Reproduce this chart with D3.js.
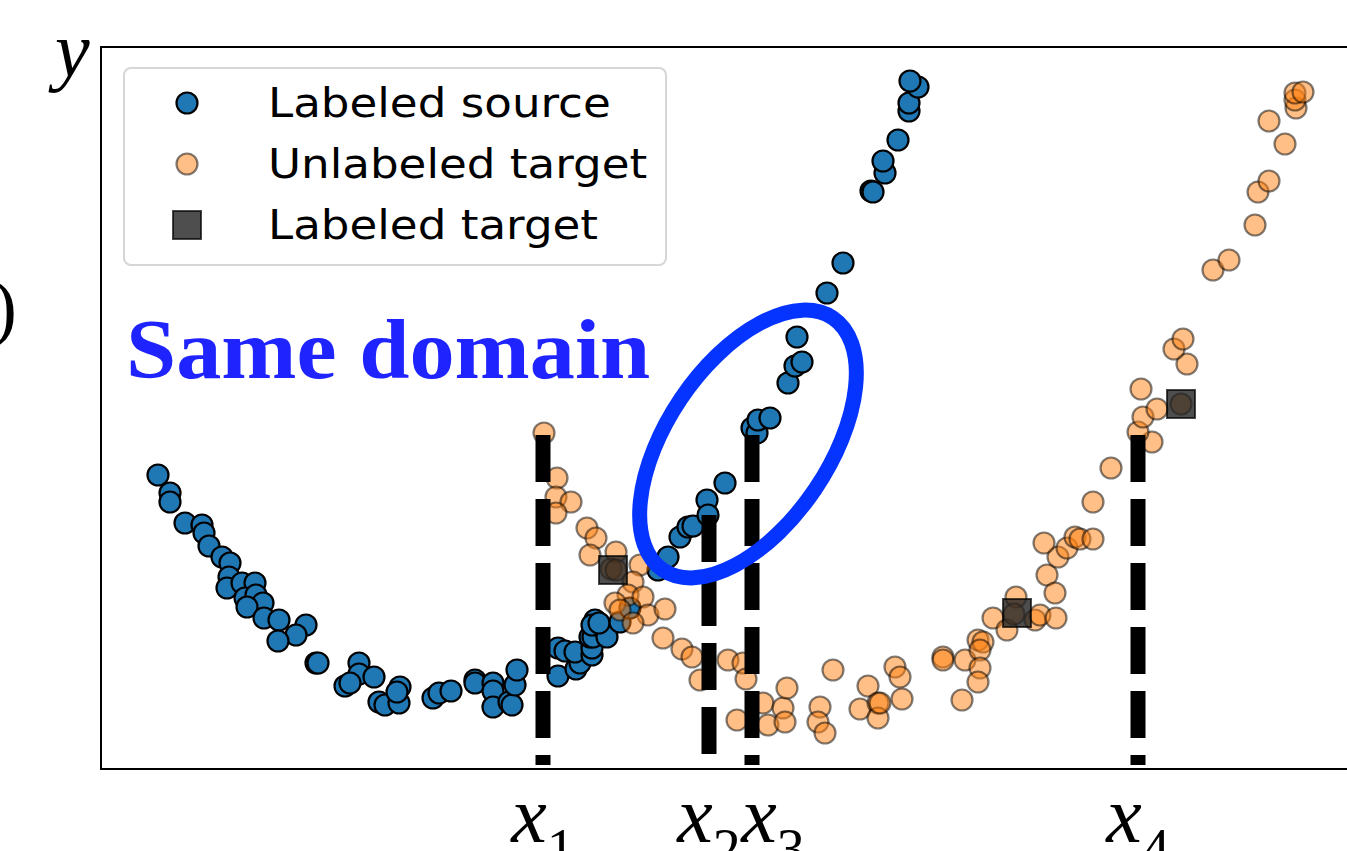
<!DOCTYPE html>
<html>
<head>
<meta charset="utf-8">
<script src="https://cdn.jsdelivr.net/npm/d3@7"></script>
<style>
  body { margin: 0; background: #fff; overflow: hidden; }
  svg { display: block; }
</style>
</head>
<body>
<figure id="scatter" style="margin:0"></figure>
<script>
// labeled source samples (blue)
const sourceX = [0.57,0.69,0.69,0.84,1.01,1.03,1.08,1.21,1.29,1.28,1.26,1.41,1.54,1.44,1.55,1.62,1.46,1.63,1.78,2.05,
  1.95,1.77,2.15,2.17,2.58,2.58,2.73,2.44,2.49,2.78,2.84,2.99,2.98,2.96,3.32,3.38,3.50,3.74,3.74,3.92,
  3.92,3.92,4.08,4.11,4.14,4.16,
  4.57,4.64,4.57,4.75,4.79,4.74,4.91,4.91,4.89,4.92,5.02,4.94,4.91,5.06,4.98,5.19,5.29,5.57,5.67,5.79,
  5.87,5.92,6.06,6.07,6.24,6.51,6.56,6.57,6.69,6.87,6.94,7.01,6.96,7.26,7.42,7.70,7.72,7.84,7.82,7.97,
  8.08,8.08,8.17,8.09];
const sourceY = [2.94,2.76,2.67,2.46,2.44,2.36,2.23,2.12,2.06,1.92,1.81,1.86,1.86,1.71,1.74,1.66,1.62,1.51,1.49,1.44,
  1.34,1.28,1.06,1.06,1.06,0.95,0.92,0.83,0.86,0.67,0.64,0.82,0.66,0.77,0.71,0.76,0.78,0.89,0.86,0.86,
  0.78,0.62,0.67,0.64,0.84,0.99,
  1.21,1.18,0.93,1.00,1.06,1.17,1.14,1.21,1.32,1.32,1.41,1.49,1.44,1.32,1.46,1.47,1.61,1.99,2.12,2.32,
  2.42,2.43,2.69,2.54,2.86,3.41,3.36,3.49,3.51,3.86,4.03,4.07,4.32,4.76,5.06,5.78,5.77,5.96,6.08,6.29,
  6.58,6.66,6.82,6.88];

// unlabeled target samples (orange)
const targetX = [4.43,4.56,4.55,4.70,4.55,4.86,4.95,4.89,5.15,5.10,5.15,5.39,5.32,5.27,5.42,5.14,5.19,5.47,5.64,5.32,
  5.62,5.81,5.91,5.99,6.27,6.42,6.45,6.36,6.62,6.67,6.82,6.84,6.86,7.32,7.19,7.17,7.24,7.59,7.67,7.77,
  7.77,7.79,7.94,7.99,8.01,8.42,8.42,8.61,8.64,8.77,8.82,8.79,8.79,8.77,8.92,9.06,9.15,9.34,9.39,9.55,
  9.46,9.54,9.57,9.66,9.43,9.74,9.79,9.92,9.92,10.10,10.51,10.37,10.42,10.56,10.40,10.86,10.73,10.82,11.12,11.28,
  11.54,11.57,11.68,11.84,11.68,11.95,11.94,11.94,12.02,9.13,10.80];
const targetY = [3.36,2.91,2.72,2.67,2.56,2.41,2.31,2.14,2.17,2.00,1.99,2.04,1.87,1.74,1.72,1.66,1.59,1.54,1.60,1.46,
  1.31,1.20,1.12,0.89,1.09,1.06,0.90,0.49,0.66,0.44,0.61,0.47,0.81,0.99,0.62,0.47,0.36,0.60,0.83,0.66,
  0.51,0.66,1.02,0.92,0.70,1.12,1.09,0.69,1.09,1.29,1.27,1.19,1.01,0.87,1.51,1.39,1.72,1.49,1.54,1.51,
  1.94,1.76,2.12,2.21,2.26,2.32,2.30,2.30,2.67,3.01,3.27,3.37,3.52,3.60,3.80,4.05,4.20,4.30,4.99,5.09,
  5.44,5.77,5.88,6.25,6.48,6.61,6.69,6.76,6.77,1.55,3.65];

// labeled target samples (squares)
const labeledX = [5.12, 9.16, 10.80];
const labeledY = [1.99, 1.56, 3.65];

// query positions x1..x4 and the height where each dashed line starts
const cutX = [4.42, 6.08, 6.51, 10.37];
const cutTop = [3.34, 2.54, 3.34, 3.34];
const cutLabels = ["1", "2", "3", "4"];

const legendLabels = ["Labeled source", "Unlabeled target", "Labeled target"];

const W = 1347, H = 851;
const mLeft = 101, mTop = 47, mBottom = 769, mRight = 1361;

const svg = d3.select("figure#scatter")
  .append("svg")
  .attr("width", W)
  .attr("height", H);

const x = d3.scaleLinear().domain([0, 12.6]).range([mLeft, mRight]);
const y = d3.scaleLinear().domain([0, 7.22]).range([mBottom, mTop]);

const blue = "#1f77b4", orange = "#ff7f0e";
const r = 10.5;

// frame
svg.append("rect")
  .attr("x", mLeft).attr("y", mTop)
  .attr("width", mRight - mLeft).attr("height", mBottom - mTop)
  .attr("fill", "none").attr("stroke", "#000").attr("stroke-width", 2);

// source points
svg.append("g").selectAll("circle")
  .data(d3.zip(sourceX, sourceY))
  .enter().append("circle")
  .attr("cx", d => x(d[0]))
  .attr("cy", d => y(d[1]))
  .attr("r", r)
  .attr("fill", blue)
  .attr("stroke", "#000")
  .attr("stroke-width", 2.2);

// target points
svg.append("g").selectAll("circle")
  .data(d3.zip(targetX, targetY))
  .enter().append("circle")
  .attr("cx", d => x(d[0]))
  .attr("cy", d => y(d[1]))
  .attr("r", r)
  .attr("fill", orange).attr("fill-opacity", 0.5)
  .attr("stroke", "#000").attr("stroke-opacity", 0.5)
  .attr("stroke-width", 2.2);

// labeled target squares
const sq = 28;
svg.append("g").selectAll("rect")
  .data(d3.zip(labeledX, labeledY))
  .enter().append("rect")
  .attr("x", d => x(d[0]) - sq / 2)
  .attr("y", d => y(d[1]) - sq / 2)
  .attr("width", sq).attr("height", sq)
  .attr("fill", "#222").attr("fill-opacity", 0.8)
  .attr("stroke", "#000").attr("stroke-opacity", 0.7)
  .attr("stroke-width", 2);

// dashed vertical lines
svg.append("g").selectAll("line")
  .data(d3.zip(cutX, cutTop))
  .enter().append("line")
  .attr("x1", d => x(d[0])).attr("x2", d => x(d[0]))
  .attr("y1", d => y(d[1])).attr("y2", y(0.04))
  .attr("stroke", "#000")
  .attr("stroke-width", 15)
  .attr("stroke-dasharray", "47,17");

// x labels (bottom of them falls outside the picture, as in the original crop)
const lab = svg.append("g")
  .attr("font-family", "'Liberation Serif', 'Times New Roman', serif");
cutX.forEach((v, i) => {
  const t = lab.append("text")
    .attr("x", x(v) + (i === 2 ? 21 : 0))
    .attr("y", 842)
    .attr("text-anchor", "middle");
  t.append("tspan").attr("font-style", "italic").attr("font-size", 80).text("x");
  t.append("tspan").attr("font-size", 56).attr("dy", 26).text(cutLabels[i]);
});

// y label and the clipped f(x)
svg.append("text")
  .attr("x", 55).attr("y", 76)
  .attr("font-family", "'Liberation Serif', serif")
  .attr("font-style", "italic")
  .attr("font-size", 78)
  .text("y");
svg.append("text")
  .attr("x", 17).attr("y", 332)
  .attr("text-anchor", "end")
  .attr("font-family", "'Liberation Serif', serif")
  .attr("font-size", 74)
  .text("f(x)");

// ellipse annotation
const ecx = x(6.47), ecy = y(3.25);
svg.append("ellipse")
  .attr("transform", `translate(${ecx},${ecy}) rotate(-56)`)
  .attr("rx", 152).attr("ry", 81)
  .attr("fill", "none")
  .attr("stroke", "#0533ff")
  .attr("stroke-width", 15);

svg.append("text")
  .attr("transform", "translate(126,378) scale(1.075,1)")
  .attr("font-family", "'Liberation Serif', 'Times New Roman', serif")
  .attr("font-weight", "bold")
  .attr("font-size", 84)
  .attr("fill", "#1f24ff")
  .text("Same domain");

// legend
const lg = svg.append("g");
lg.append("rect")
  .attr("x", 124).attr("y", 68)
  .attr("width", 542).attr("height", 197)
  .attr("rx", 7)
  .attr("fill", "#fff").attr("fill-opacity", 0.8)
  .attr("stroke", "#d6d6d6").attr("stroke-width", 2);

legendLabels.forEach((name, i) => {
  const ry = 103 + i * 61;
  if (i === 0) {
    lg.append("circle").attr("cx", 187).attr("cy", ry).attr("r", r)
      .attr("fill", blue).attr("stroke", "#000").attr("stroke-width", 2.2);
  } else if (i === 1) {
    lg.append("circle").attr("cx", 187).attr("cy", ry).attr("r", r)
      .attr("fill", orange).attr("fill-opacity", 0.5)
      .attr("stroke", "#000").attr("stroke-opacity", 0.5).attr("stroke-width", 2.2);
  } else {
    lg.append("rect").attr("x", 187 - sq / 2).attr("y", ry - sq / 2)
      .attr("width", sq).attr("height", sq)
      .attr("fill", "#222").attr("fill-opacity", 0.8)
      .attr("stroke", "#000").attr("stroke-opacity", 0.7).attr("stroke-width", 2);
  }
  lg.append("text")
    .attr("transform", `translate(268,${ry + 14}) scale(1.13,1)`)
    .attr("font-family", "'DejaVu Sans', sans-serif")
    .attr("font-size", 40)
    .attr("fill", "#000")
    .text(name);
});
</script>
</body>
</html>
